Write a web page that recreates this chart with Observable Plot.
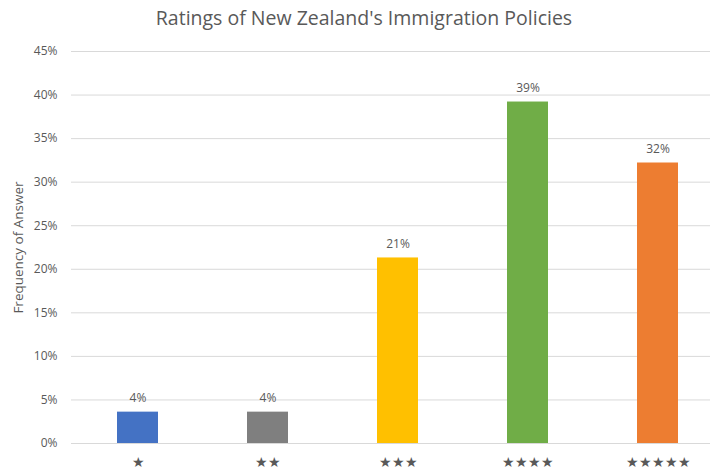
<!DOCTYPE html>
<html>
<head>
<meta charset="utf-8">
<script src="https://cdn.jsdelivr.net/npm/d3@7"></script>
<script src="https://cdn.jsdelivr.net/npm/@observablehq/plot@0.6"></script>
<style>
  body { margin: 0; background: #fff; font-family: "Open Sans", sans-serif; }
  #title { height: 36px; line-height: 36px; text-align: center; color: #595959; font-size: 19.5px; width: 718px; padding-left: 10px; box-sizing: border-box; }
</style>
</head>
<body>
<div id="title">Ratings of New Zealand's Immigration Policies</div>
<div id="chart"></div>
<script>
const ratings = ["★", "★★", "★★★", "★★★★", "★★★★★"];
const frequencies = [3.6, 3.6, 21.3, 39.2, 32.2];
const valueLabels = ["4%", "4%", "21%", "39%", "32%"];
const colors = ["#4472C4", "#7F7F7F", "#FFC000", "#70AD47", "#ED7D31"];
const yTicks = [0, 5, 10, 15, 20, 25, 30, 35, 40, 45];

const data = ratings.map((r, i) => ({rating: r, value: frequencies[i], label: valueLabels[i], color: colors[i]}));

const chart = Plot.plot({
  width: 718,
  height: 435,
  marginLeft: 71,
  marginRight: 8,
  marginTop: 15,
  marginBottom: 28,
  style: {fontFamily: "Open Sans, sans-serif", color: "#595959"},
  x: {domain: ratings, range: [71, 724], paddingInner: 0.686, paddingOuter: 0.343, label: null},
  y: {domain: [0, 45], label: null},
  marks: [
    Plot.ruleY(yTicks, {stroke: "#D9D9D9", strokeWidth: 1}),
    Plot.barY(data, {x: "rating", y: "value", fill: d => d.color}),
    Plot.text(data, {x: "rating", y: "value", text: "label", dy: -14, fill: "#595959", fontSize: 12}),
    Plot.axisY(yTicks, {tickSize: 0, tickPadding: 14, tickFormat: d => d + "%", fontSize: 12, fill: "#595959"}),
    Plot.axisX({tickSize: 0, tickPadding: 14, fontSize: 13.5, fill: "#595959", label: null}),
    Plot.text(["Frequency of Answer"], {frameAnchor: "left", dx: -53, rotate: -90, textAnchor: "middle", fontSize: 13.5, fill: "#595959"})
  ]
});
document.getElementById("chart").appendChild(chart);
</script>
</body>
</html>
